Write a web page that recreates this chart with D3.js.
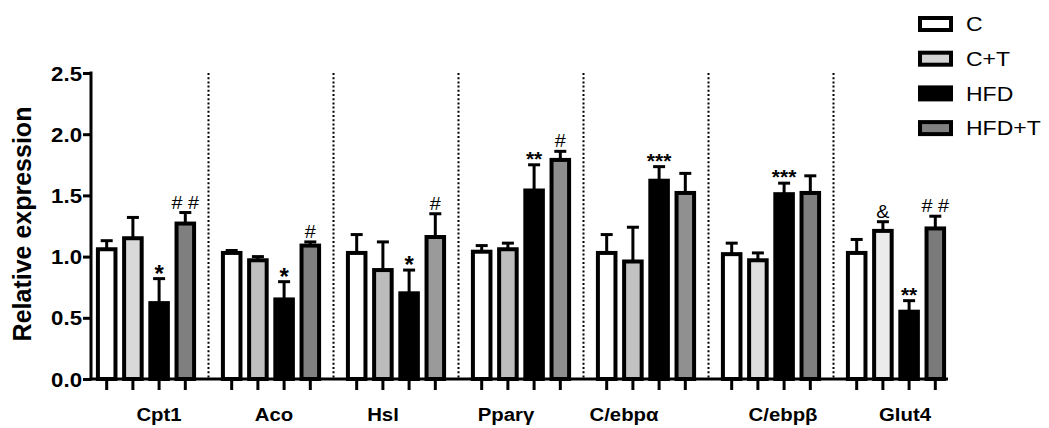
<!DOCTYPE html>
<html>
<head>
<meta charset="utf-8">
<script src="https://cdn.jsdelivr.net/npm/d3@7"></script>
<style>
  body { margin: 0; background: #fff; }
  svg { display: block; font-family: "Liberation Sans", Arial, Helvetica, sans-serif; }
</style>
</head>
<body>
<svg id="chart" width="1049" height="428"></svg>
<script>
// Genes on the x axis and the four treatment groups
const genes = ["Cpt1", "Aco", "Hsl", "Pparγ", "C/ebpα", "C/ebpβ", "Glut4"];
const groups = ["C", "C+T", "HFD", "HFD+T"];

// Mean relative expression per group
const meanC    = [1.06, 1.03, 1.03, 1.04, 1.03, 1.02, 1.03];
const meanCT   = [1.15, 0.97, 0.89, 1.06, 0.96, 0.97, 1.21];
const meanHFD  = [0.62, 0.65, 0.70, 1.54, 1.62, 1.51, 0.55];
const meanHFDT = [1.27, 1.09, 1.16, 1.79, 1.52, 1.52, 1.23];

// Upper error (SEM) per group
const errC    = [0.07, 0.02, 0.15, 0.05, 0.15, 0.09, 0.11];
const errCT   = [0.17, 0.03, 0.23, 0.05, 0.28, 0.06, 0.075];
const errHFD  = [0.20, 0.145, 0.19, 0.21, 0.115, 0.09, 0.09];
const errHFDT = [0.09, 0.03, 0.19, 0.07, 0.16, 0.14, 0.10];

// Y axis ticks
const yTicks = [0, 0.5, 1.0, 1.5, 2.0, 2.5];

// Significance marks: [gene, group, symbol]
const marks = [
  ["Cpt1", "HFD", "*"], ["Cpt1", "HFD+T", "# #"],
  ["Aco", "HFD", "*"], ["Aco", "HFD+T", "#"],
  ["Hsl", "HFD", "*"], ["Hsl", "HFD+T", "#"],
  ["Pparγ", "HFD", "**"], ["Pparγ", "HFD+T", "#"],
  ["C/ebpα", "HFD", "***"],
  ["C/ebpβ", "HFD", "***"],
  ["Glut4", "C+T", "&"], ["Glut4", "HFD", "**"], ["Glut4", "HFD+T", "# #"]
];

// Fill shades (the treated groups vary slightly from gene to gene)
const fillC = "#ffffff";
const fillHFD = "#000000";
const fillCT   = ["#d9d9d9", "#bfbfbf", "#bcbcbc", "#bdbdbd", "#c2c2c2", "#dedede", "#ebebeb"];
const fillHFDT = ["#7f7f7f", "#808080", "#9a9a9a", "#8e8e8e", "#909090", "#7f7f7f", "#7a7a7a"];
const legendFill = ["#ffffff", "#d3d3d3", "#000000", "#808080"];

// Hand-placed offsets of the gene labels relative to each group centre
const labelNudge = [13, 3, -13, -15, -22, 12, 9];

const means = [meanC, meanCT, meanHFD, meanHFDT];
const errs = [errC, errCT, errHFD, errHFDT];
const fills = [genes.map(() => fillC), fillCT, genes.map(() => fillHFD), fillHFDT];

const rows = [];
genes.forEach((g, gi) => groups.forEach((s, si) => {
  rows.push({ gene: g, group: s, gi, si, v: means[si][gi], e: errs[si][gi], fill: fills[si][gi] });
}));

const svg = d3.select("#chart");
const SX = 1.14; // horizontal widening of the lettering

const axisX = 91, axisRight = 948;
const y = d3.scaleLinear().domain([0, 2.5]).range([379, 73]);
const x0 = d3.scaleBand().domain(genes).range([83.5, 958.5]);
const x1 = d3.scaleBand().domain(groups).range([0, x0.bandwidth()])
  .paddingInner(0.33).paddingOuter(0.55);
const cx = d => x0(d.gene) + x1(d.group) + x1.bandwidth() / 2;

function wideText(sel, x, yy, sx) {
  return sel.attr("transform", `translate(${x},${yy}) scale(${sx},1)`);
}

// Dotted separators between genes
svg.append("g").selectAll("line")
  .data(genes.slice(0, -1))
  .join("line")
  .attr("x1", g => x0(g) + x0.step())
  .attr("x2", g => x0(g) + x0.step())
  .attr("y1", y(2.5))
  .attr("y2", y(0))
  .attr("stroke", "#000")
  .attr("stroke-width", 2)
  .attr("stroke-dasharray", "2,2.2");

// Error bars (upper only)
const eb = svg.append("g").attr("stroke", "#000").attr("stroke-width", 3);
eb.selectAll("line.v").data(rows).join("line").attr("class", "v")
  .attr("x1", cx).attr("x2", cx)
  .attr("y1", d => y(d.v)).attr("y2", d => y(d.v + d.e));
eb.selectAll("line.c").data(rows).join("line").attr("class", "c")
  .attr("x1", d => cx(d) - 6).attr("x2", d => cx(d) + 6)
  .attr("y1", d => y(d.v + d.e)).attr("y2", d => y(d.v + d.e));

// Bars
svg.append("g").selectAll("rect")
  .data(rows)
  .join("rect")
  .attr("x", d => x0(d.gene) + x1(d.group))
  .attr("width", x1.bandwidth())
  .attr("y", d => y(d.v))
  .attr("height", d => y(0) - y(d.v))
  .attr("fill", d => d.fill)
  .attr("stroke", "#000")
  .attr("stroke-width", 4);

// Y axis
const yAxis = svg.append("g")
  .attr("transform", `translate(${axisX},0)`)
  .call(d3.axisLeft(y).tickValues(yTicks).tickFormat(d3.format(".1f")).tickSize(8).tickSizeOuter(0));
yAxis.select(".domain").attr("stroke-width", 3).attr("d", `M0,${y(2.5) - 1.5}V${y(0) + 1.5}`);
yAxis.selectAll(".tick line").attr("stroke-width", 3);
yAxis.selectAll(".tick text")
  .attr("x", 0).attr("dy", "0.36em")
  .attr("transform", `translate(-9,0) scale(${SX},1)`)
  .attr("font-size", 19.5).attr("font-weight", "bold").attr("fill", "#000")
  .attr("font-family", "Liberation Sans, Arial, sans-serif");

// X baseline and bar ticks
svg.append("line")
  .attr("x1", axisX - 1.5).attr("x2", axisRight)
  .attr("y1", y(0)).attr("y2", y(0))
  .attr("stroke", "#000").attr("stroke-width", 3);
svg.append("g").selectAll("line")
  .data(rows)
  .join("line")
  .attr("x1", cx).attr("x2", cx)
  .attr("y1", y(0)).attr("y2", y(0) + 11)
  .attr("stroke", "#000").attr("stroke-width", 3);

// Gene labels
svg.append("g").selectAll("text")
  .data(genes)
  .join("text")
  .each(function (g, i) {
    wideText(d3.select(this), x0(g) + x0.bandwidth() / 2 + labelNudge[i], 421, 1.1);
  })
  .attr("text-anchor", "middle")
  .attr("font-size", 18.5)
  .attr("font-weight", "bold")
  .text(g => g);

// Y axis title
svg.append("text")
  .attr("transform", `translate(31,224) rotate(-90)`)
  .attr("text-anchor", "middle")
  .attr("font-size", 25)
  .attr("font-weight", "bold")
  .text("Relative expression");

// Significance symbols
svg.append("g").selectAll("text")
  .data(marks.map(([g, s, t]) => {
    const r = rows.find(d => d.gene === g && d.group === s);
    return { r, t };
  }))
  .join("text")
  .each(function (d) {
    const star = d.t[0] === "*";
    const top = y(d.r.v + d.r.e);
    wideText(d3.select(this), cx(d.r), star ? top + (d.t.length === 1 ? 3 : 1) : top - 4, star ? 1 : 1.1);
  })
  .attr("text-anchor", "middle")
  .attr("font-size", d => d.t[0] === "*" ? (d.t.length === 1 ? 24 : 21) : 18)
  .attr("font-weight", d => d.t[0] === "*" ? "bold" : "normal")
  .text(d => d.t);

// Legend
const lg = svg.append("g").selectAll("g")
  .data(groups)
  .join("g")
  .attr("transform", (d, i) => `translate(920,${24 + i * 34.7})`);
lg.append("rect")
  .attr("x", 0).attr("y", -6).attr("width", 31).attr("height", 12)
  .attr("fill", (d, i) => legendFill[i])
  .attr("stroke", "#000").attr("stroke-width", 4);
lg.append("text")
  .attr("transform", `translate(46,0) scale(1.15,1)`)
  .attr("dy", "0.36em")
  .attr("font-size", 20)
  .text(d => d);
</script>
</body>
</html>
